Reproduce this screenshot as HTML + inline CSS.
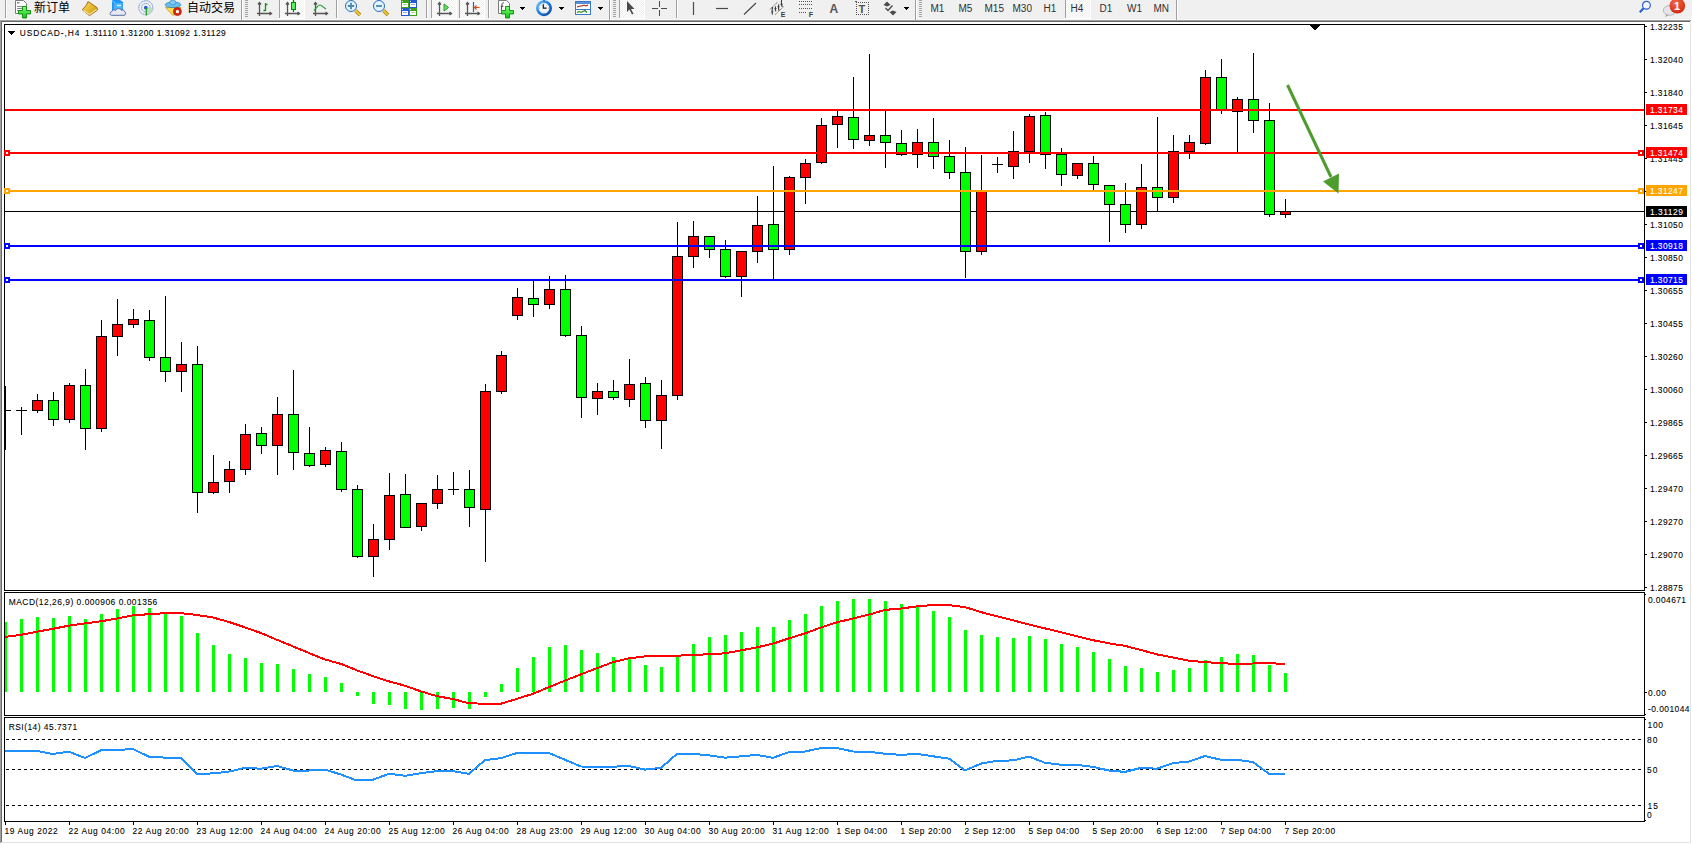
<!DOCTYPE html>
<html><head><meta charset="utf-8"><title>USDCAD-,H4</title>
<style>
html,body{margin:0;padding:0;width:1692px;height:844px;overflow:hidden;background:#f0f0f0}
svg{display:block}
text{font-family:"Liberation Sans", "Noto Sans CJK SC", sans-serif}

</style></head><body>
<svg width="1692" height="844" viewBox="0 0 1692 844">
<rect x="0" y="0" width="1692" height="844" fill="#f0f0f0"/>
<rect x="0" y="19" width="1692" height="1" fill="#f7f7f7"/>
<rect x="0" y="20" width="1691" height="1" fill="#a0a0a0"/>
<rect x="0" y="20" width="1" height="823" fill="#a0a0a0"/>
<rect x="1" y="21" width="1689" height="1" fill="#696969"/>
<rect x="1" y="21" width="1" height="821" fill="#696969"/>
<rect x="1690" y="21" width="1" height="822" fill="#e3e3e3"/>
<rect x="1" y="842" width="1690" height="1" fill="#e3e3e3"/>
<rect x="1691" y="20" width="1" height="824" fill="#ffffff"/>
<rect x="0" y="843" width="1692" height="1" fill="#ffffff"/>
<rect x="2" y="22" width="1688" height="820" fill="#ffffff"/>
<rect x="4" y="24" width="1641" height="1" fill="#000"/>
<rect x="4" y="590" width="1641" height="1" fill="#000"/>
<rect x="4" y="24" width="1" height="567" fill="#000"/>
<rect x="1644" y="24" width="1" height="567" fill="#000"/>
<rect x="4" y="592" width="1641" height="1" fill="#000"/>
<rect x="4" y="715" width="1641" height="1" fill="#000"/>
<rect x="4" y="592" width="1" height="124" fill="#000"/>
<rect x="1644" y="592" width="1" height="124" fill="#000"/>
<rect x="4" y="717" width="1641" height="1" fill="#000"/>
<rect x="4" y="821" width="1641" height="1" fill="#000"/>
<rect x="4" y="717" width="1" height="105" fill="#000"/>
<rect x="1644" y="717" width="1" height="105" fill="#000"/>
<rect x="5" y="211" width="1639" height="1" fill="#000"/>
<g shape-rendering="crispEdges">
<rect x="5" y="386" width="1" height="64" fill="#000"/>
<rect x="5" y="410" width="6" height="1" fill="#000"/>
<rect x="21" y="407" width="1" height="28" fill="#000"/>
<rect x="16" y="410" width="11" height="1" fill="#000"/>
<rect x="37" y="394" width="1" height="19" fill="#000"/>
<rect x="32" y="400" width="11" height="11" fill="#000"/>
<rect x="33" y="401" width="9" height="9" fill="#ff0000"/>
<rect x="53" y="392" width="1" height="34" fill="#000"/>
<rect x="48" y="400" width="11" height="20" fill="#000"/>
<rect x="49" y="401" width="9" height="18" fill="#00ff00"/>
<rect x="69" y="383" width="1" height="40" fill="#000"/>
<rect x="64" y="385" width="11" height="35" fill="#000"/>
<rect x="65" y="386" width="9" height="33" fill="#ff0000"/>
<rect x="85" y="369" width="1" height="81" fill="#000"/>
<rect x="80" y="385" width="11" height="44" fill="#000"/>
<rect x="81" y="386" width="9" height="42" fill="#00ff00"/>
<rect x="101" y="320" width="1" height="112" fill="#000"/>
<rect x="96" y="336" width="11" height="93" fill="#000"/>
<rect x="97" y="337" width="9" height="91" fill="#ff0000"/>
<rect x="117" y="299" width="1" height="57" fill="#000"/>
<rect x="112" y="324" width="11" height="13" fill="#000"/>
<rect x="113" y="325" width="9" height="11" fill="#ff0000"/>
<rect x="133" y="309" width="1" height="19" fill="#000"/>
<rect x="128" y="319" width="11" height="6" fill="#000"/>
<rect x="129" y="320" width="9" height="4" fill="#ff0000"/>
<rect x="149" y="310" width="1" height="51" fill="#000"/>
<rect x="144" y="320" width="11" height="38" fill="#000"/>
<rect x="145" y="321" width="9" height="36" fill="#00ff00"/>
<rect x="165" y="296" width="1" height="86" fill="#000"/>
<rect x="160" y="357" width="11" height="15" fill="#000"/>
<rect x="161" y="358" width="9" height="13" fill="#00ff00"/>
<rect x="181" y="342" width="1" height="50" fill="#000"/>
<rect x="176" y="364" width="11" height="8" fill="#000"/>
<rect x="177" y="365" width="9" height="6" fill="#ff0000"/>
<rect x="197" y="346" width="1" height="167" fill="#000"/>
<rect x="192" y="364" width="11" height="129" fill="#000"/>
<rect x="193" y="365" width="9" height="127" fill="#00ff00"/>
<rect x="213" y="455" width="1" height="39" fill="#000"/>
<rect x="208" y="482" width="11" height="11" fill="#000"/>
<rect x="209" y="483" width="9" height="9" fill="#ff0000"/>
<rect x="229" y="461" width="1" height="32" fill="#000"/>
<rect x="224" y="469" width="11" height="13" fill="#000"/>
<rect x="225" y="470" width="9" height="11" fill="#ff0000"/>
<rect x="245" y="424" width="1" height="51" fill="#000"/>
<rect x="240" y="434" width="11" height="36" fill="#000"/>
<rect x="241" y="435" width="9" height="34" fill="#ff0000"/>
<rect x="261" y="427" width="1" height="27" fill="#000"/>
<rect x="256" y="433" width="11" height="13" fill="#000"/>
<rect x="257" y="434" width="9" height="11" fill="#00ff00"/>
<rect x="277" y="397" width="1" height="78" fill="#000"/>
<rect x="272" y="414" width="11" height="32" fill="#000"/>
<rect x="273" y="415" width="9" height="30" fill="#ff0000"/>
<rect x="293" y="370" width="1" height="100" fill="#000"/>
<rect x="288" y="414" width="11" height="39" fill="#000"/>
<rect x="289" y="415" width="9" height="37" fill="#00ff00"/>
<rect x="309" y="427" width="1" height="40" fill="#000"/>
<rect x="304" y="453" width="11" height="13" fill="#000"/>
<rect x="305" y="454" width="9" height="11" fill="#00ff00"/>
<rect x="325" y="447" width="1" height="20" fill="#000"/>
<rect x="320" y="450" width="11" height="15" fill="#000"/>
<rect x="321" y="451" width="9" height="13" fill="#ff0000"/>
<rect x="341" y="442" width="1" height="50" fill="#000"/>
<rect x="336" y="451" width="11" height="39" fill="#000"/>
<rect x="337" y="452" width="9" height="37" fill="#00ff00"/>
<rect x="357" y="485" width="1" height="73" fill="#000"/>
<rect x="352" y="489" width="11" height="68" fill="#000"/>
<rect x="353" y="490" width="9" height="66" fill="#00ff00"/>
<rect x="373" y="524" width="1" height="53" fill="#000"/>
<rect x="368" y="539" width="11" height="18" fill="#000"/>
<rect x="369" y="540" width="9" height="16" fill="#ff0000"/>
<rect x="389" y="473" width="1" height="77" fill="#000"/>
<rect x="384" y="495" width="11" height="45" fill="#000"/>
<rect x="385" y="496" width="9" height="43" fill="#ff0000"/>
<rect x="405" y="474" width="1" height="54" fill="#000"/>
<rect x="400" y="494" width="11" height="34" fill="#000"/>
<rect x="401" y="495" width="9" height="32" fill="#00ff00"/>
<rect x="421" y="503" width="1" height="28" fill="#000"/>
<rect x="416" y="503" width="11" height="24" fill="#000"/>
<rect x="417" y="504" width="9" height="22" fill="#ff0000"/>
<rect x="437" y="475" width="1" height="34" fill="#000"/>
<rect x="432" y="489" width="11" height="15" fill="#000"/>
<rect x="433" y="490" width="9" height="13" fill="#ff0000"/>
<rect x="453" y="472" width="1" height="23" fill="#000"/>
<rect x="448" y="489" width="11" height="1" fill="#000"/>
<rect x="469" y="470" width="1" height="57" fill="#000"/>
<rect x="464" y="489" width="11" height="19" fill="#000"/>
<rect x="465" y="490" width="9" height="17" fill="#00ff00"/>
<rect x="485" y="384" width="1" height="178" fill="#000"/>
<rect x="480" y="391" width="11" height="119" fill="#000"/>
<rect x="481" y="392" width="9" height="117" fill="#ff0000"/>
<rect x="501" y="351" width="1" height="43" fill="#000"/>
<rect x="496" y="355" width="11" height="37" fill="#000"/>
<rect x="497" y="356" width="9" height="35" fill="#ff0000"/>
<rect x="517" y="288" width="1" height="32" fill="#000"/>
<rect x="512" y="297" width="11" height="19" fill="#000"/>
<rect x="513" y="298" width="9" height="17" fill="#ff0000"/>
<rect x="533" y="280" width="1" height="37" fill="#000"/>
<rect x="528" y="298" width="11" height="7" fill="#000"/>
<rect x="529" y="299" width="9" height="5" fill="#00ff00"/>
<rect x="549" y="276" width="1" height="33" fill="#000"/>
<rect x="544" y="289" width="11" height="16" fill="#000"/>
<rect x="545" y="290" width="9" height="14" fill="#ff0000"/>
<rect x="565" y="275" width="1" height="62" fill="#000"/>
<rect x="560" y="289" width="11" height="47" fill="#000"/>
<rect x="561" y="290" width="9" height="45" fill="#00ff00"/>
<rect x="581" y="326" width="1" height="92" fill="#000"/>
<rect x="576" y="335" width="11" height="63" fill="#000"/>
<rect x="577" y="336" width="9" height="61" fill="#00ff00"/>
<rect x="597" y="383" width="1" height="32" fill="#000"/>
<rect x="592" y="391" width="11" height="8" fill="#000"/>
<rect x="593" y="392" width="9" height="6" fill="#ff0000"/>
<rect x="613" y="380" width="1" height="20" fill="#000"/>
<rect x="608" y="391" width="11" height="7" fill="#000"/>
<rect x="609" y="392" width="9" height="5" fill="#00ff00"/>
<rect x="629" y="359" width="1" height="48" fill="#000"/>
<rect x="624" y="384" width="11" height="16" fill="#000"/>
<rect x="625" y="385" width="9" height="14" fill="#ff0000"/>
<rect x="645" y="377" width="1" height="51" fill="#000"/>
<rect x="640" y="383" width="11" height="38" fill="#000"/>
<rect x="641" y="384" width="9" height="36" fill="#00ff00"/>
<rect x="661" y="380" width="1" height="69" fill="#000"/>
<rect x="656" y="395" width="11" height="26" fill="#000"/>
<rect x="657" y="396" width="9" height="24" fill="#ff0000"/>
<rect x="677" y="222" width="1" height="178" fill="#000"/>
<rect x="672" y="256" width="11" height="140" fill="#000"/>
<rect x="673" y="257" width="9" height="138" fill="#ff0000"/>
<rect x="693" y="221" width="1" height="47" fill="#000"/>
<rect x="688" y="236" width="11" height="21" fill="#000"/>
<rect x="689" y="237" width="9" height="19" fill="#ff0000"/>
<rect x="709" y="236" width="1" height="22" fill="#000"/>
<rect x="704" y="236" width="11" height="14" fill="#000"/>
<rect x="705" y="237" width="9" height="12" fill="#00ff00"/>
<rect x="725" y="240" width="1" height="38" fill="#000"/>
<rect x="720" y="249" width="11" height="28" fill="#000"/>
<rect x="721" y="250" width="9" height="26" fill="#00ff00"/>
<rect x="741" y="251" width="1" height="46" fill="#000"/>
<rect x="736" y="251" width="11" height="26" fill="#000"/>
<rect x="737" y="252" width="9" height="24" fill="#ff0000"/>
<rect x="757" y="196" width="1" height="67" fill="#000"/>
<rect x="752" y="225" width="11" height="27" fill="#000"/>
<rect x="753" y="226" width="9" height="25" fill="#ff0000"/>
<rect x="773" y="166" width="1" height="114" fill="#000"/>
<rect x="768" y="224" width="11" height="26" fill="#000"/>
<rect x="769" y="225" width="9" height="24" fill="#00ff00"/>
<rect x="789" y="176" width="1" height="79" fill="#000"/>
<rect x="784" y="177" width="11" height="73" fill="#000"/>
<rect x="785" y="178" width="9" height="71" fill="#ff0000"/>
<rect x="805" y="159" width="1" height="45" fill="#000"/>
<rect x="800" y="163" width="11" height="15" fill="#000"/>
<rect x="801" y="164" width="9" height="13" fill="#ff0000"/>
<rect x="821" y="118" width="1" height="46" fill="#000"/>
<rect x="816" y="125" width="11" height="38" fill="#000"/>
<rect x="817" y="126" width="9" height="36" fill="#ff0000"/>
<rect x="837" y="110" width="1" height="38" fill="#000"/>
<rect x="832" y="116" width="11" height="9" fill="#000"/>
<rect x="833" y="117" width="9" height="7" fill="#ff0000"/>
<rect x="853" y="77" width="1" height="72" fill="#000"/>
<rect x="848" y="117" width="11" height="23" fill="#000"/>
<rect x="849" y="118" width="9" height="21" fill="#00ff00"/>
<rect x="869" y="54" width="1" height="92" fill="#000"/>
<rect x="864" y="135" width="11" height="6" fill="#000"/>
<rect x="865" y="136" width="9" height="4" fill="#ff0000"/>
<rect x="885" y="110" width="1" height="58" fill="#000"/>
<rect x="880" y="135" width="11" height="8" fill="#000"/>
<rect x="881" y="136" width="9" height="6" fill="#00ff00"/>
<rect x="901" y="130" width="1" height="26" fill="#000"/>
<rect x="896" y="143" width="11" height="12" fill="#000"/>
<rect x="897" y="144" width="9" height="10" fill="#00ff00"/>
<rect x="917" y="129" width="1" height="39" fill="#000"/>
<rect x="912" y="142" width="11" height="13" fill="#000"/>
<rect x="913" y="143" width="9" height="11" fill="#ff0000"/>
<rect x="933" y="118" width="1" height="51" fill="#000"/>
<rect x="928" y="142" width="11" height="15" fill="#000"/>
<rect x="929" y="143" width="9" height="13" fill="#00ff00"/>
<rect x="949" y="140" width="1" height="39" fill="#000"/>
<rect x="944" y="156" width="11" height="17" fill="#000"/>
<rect x="945" y="157" width="9" height="15" fill="#00ff00"/>
<rect x="965" y="147" width="1" height="131" fill="#000"/>
<rect x="960" y="172" width="11" height="80" fill="#000"/>
<rect x="961" y="173" width="9" height="78" fill="#00ff00"/>
<rect x="981" y="155" width="1" height="100" fill="#000"/>
<rect x="976" y="191" width="11" height="61" fill="#000"/>
<rect x="977" y="192" width="9" height="59" fill="#ff0000"/>
<rect x="997" y="157" width="1" height="16" fill="#000"/>
<rect x="992" y="164" width="11" height="1" fill="#000"/>
<rect x="1013" y="131" width="1" height="48" fill="#000"/>
<rect x="1008" y="151" width="11" height="16" fill="#000"/>
<rect x="1009" y="152" width="9" height="14" fill="#ff0000"/>
<rect x="1029" y="114" width="1" height="49" fill="#000"/>
<rect x="1024" y="116" width="11" height="36" fill="#000"/>
<rect x="1025" y="117" width="9" height="34" fill="#ff0000"/>
<rect x="1045" y="112" width="1" height="57" fill="#000"/>
<rect x="1040" y="115" width="11" height="40" fill="#000"/>
<rect x="1041" y="116" width="9" height="38" fill="#00ff00"/>
<rect x="1061" y="148" width="1" height="38" fill="#000"/>
<rect x="1056" y="154" width="11" height="21" fill="#000"/>
<rect x="1057" y="155" width="9" height="19" fill="#00ff00"/>
<rect x="1077" y="163" width="1" height="16" fill="#000"/>
<rect x="1072" y="163" width="11" height="13" fill="#000"/>
<rect x="1073" y="164" width="9" height="11" fill="#ff0000"/>
<rect x="1093" y="156" width="1" height="34" fill="#000"/>
<rect x="1088" y="163" width="11" height="22" fill="#000"/>
<rect x="1089" y="164" width="9" height="20" fill="#00ff00"/>
<rect x="1109" y="185" width="1" height="57" fill="#000"/>
<rect x="1104" y="185" width="11" height="20" fill="#000"/>
<rect x="1105" y="186" width="9" height="18" fill="#00ff00"/>
<rect x="1125" y="183" width="1" height="50" fill="#000"/>
<rect x="1120" y="204" width="11" height="21" fill="#000"/>
<rect x="1121" y="205" width="9" height="19" fill="#00ff00"/>
<rect x="1141" y="164" width="1" height="65" fill="#000"/>
<rect x="1136" y="187" width="11" height="38" fill="#000"/>
<rect x="1137" y="188" width="9" height="36" fill="#ff0000"/>
<rect x="1157" y="117" width="1" height="95" fill="#000"/>
<rect x="1152" y="187" width="11" height="11" fill="#000"/>
<rect x="1153" y="188" width="9" height="9" fill="#00ff00"/>
<rect x="1173" y="135" width="1" height="68" fill="#000"/>
<rect x="1168" y="151" width="11" height="47" fill="#000"/>
<rect x="1169" y="152" width="9" height="45" fill="#ff0000"/>
<rect x="1189" y="135" width="1" height="24" fill="#000"/>
<rect x="1184" y="142" width="11" height="10" fill="#000"/>
<rect x="1185" y="143" width="9" height="8" fill="#ff0000"/>
<rect x="1205" y="70" width="1" height="75" fill="#000"/>
<rect x="1200" y="77" width="11" height="67" fill="#000"/>
<rect x="1201" y="78" width="9" height="65" fill="#ff0000"/>
<rect x="1221" y="59" width="1" height="55" fill="#000"/>
<rect x="1216" y="77" width="11" height="33" fill="#000"/>
<rect x="1217" y="78" width="9" height="31" fill="#00ff00"/>
<rect x="1237" y="97" width="1" height="56" fill="#000"/>
<rect x="1232" y="99" width="11" height="13" fill="#000"/>
<rect x="1233" y="100" width="9" height="11" fill="#ff0000"/>
<rect x="1253" y="53" width="1" height="80" fill="#000"/>
<rect x="1248" y="99" width="11" height="22" fill="#000"/>
<rect x="1249" y="100" width="9" height="20" fill="#00ff00"/>
<rect x="1269" y="103" width="1" height="114" fill="#000"/>
<rect x="1264" y="120" width="11" height="95" fill="#000"/>
<rect x="1265" y="121" width="9" height="93" fill="#00ff00"/>
<rect x="1285" y="199" width="1" height="19" fill="#000"/>
<rect x="1280" y="211" width="11" height="4" fill="#000"/>
<rect x="1281" y="212" width="9" height="2" fill="#ff0000"/>
</g>
<rect x="5" y="109" width="1639" height="2" fill="#ff0000"/>
<rect x="5" y="152" width="1639" height="2" fill="#ff0000"/>
<rect x="4" y="150" width="6" height="6" fill="#ff0000"/>
<rect x="6" y="152" width="2" height="2" fill="#ffffff"/>
<rect x="1638" y="150" width="6" height="6" fill="#ff0000"/>
<rect x="1640" y="152" width="2" height="2" fill="#ffffff"/>
<rect x="5" y="190" width="1639" height="2" fill="#ffa500"/>
<rect x="4" y="188" width="6" height="6" fill="#ffa500"/>
<rect x="6" y="190" width="2" height="2" fill="#ffffff"/>
<rect x="1638" y="188" width="6" height="6" fill="#ffa500"/>
<rect x="1640" y="190" width="2" height="2" fill="#ffffff"/>
<rect x="5" y="245" width="1639" height="2" fill="#0000ff"/>
<rect x="4" y="243" width="6" height="6" fill="#0000ff"/>
<rect x="6" y="245" width="2" height="2" fill="#ffffff"/>
<rect x="1638" y="243" width="6" height="6" fill="#0000ff"/>
<rect x="1640" y="245" width="2" height="2" fill="#ffffff"/>
<rect x="5" y="279" width="1639" height="2" fill="#0000ff"/>
<rect x="4" y="277" width="6" height="6" fill="#0000ff"/>
<rect x="6" y="279" width="2" height="2" fill="#ffffff"/>
<rect x="1638" y="277" width="6" height="6" fill="#0000ff"/>
<rect x="1640" y="279" width="2" height="2" fill="#ffffff"/>
<rect x="4" y="24" width="1" height="567" fill="#000"/>
<rect x="4" y="150" width="6" height="6" fill="#ff0000"/>
<rect x="6" y="152" width="2" height="2" fill="#ffffff"/>
<rect x="4" y="188" width="6" height="6" fill="#ffa500"/>
<rect x="6" y="190" width="2" height="2" fill="#ffffff"/>
<rect x="4" y="243" width="6" height="6" fill="#0000ff"/>
<rect x="6" y="245" width="2" height="2" fill="#ffffff"/>
<rect x="4" y="277" width="6" height="6" fill="#0000ff"/>
<rect x="6" y="279" width="2" height="2" fill="#ffffff"/>
<line x1="1287.5" y1="85" x2="1331" y2="177" stroke="#4f9c2e" stroke-width="3"/>
<polygon points="1323,181.5 1339,173.5 1338.5,193.5" fill="#4f9c2e"/>
<rect x="1310" y="25" width="10" height="1" fill="#000"/>
<rect x="1311" y="26" width="8" height="1" fill="#000"/>
<rect x="1312" y="27" width="6" height="1" fill="#000"/>
<rect x="1313" y="28" width="4" height="1" fill="#000"/>
<rect x="1314" y="29" width="2" height="1" fill="#000"/>
<g font-family='"Liberation Sans", "Noto Sans CJK SC", sans-serif'>
<rect x="1645" y="26" width="2" height="1" fill="#000"/>
<text transform="translate(1649.9 30) scale(0.86 1)" font-size="9.8" fill="#000" stroke="#000" stroke-width="0.1" textLength="38.37" lengthAdjust="spacing">1.32235</text>
<rect x="1645" y="59" width="2" height="1" fill="#000"/>
<text transform="translate(1649.9 63) scale(0.86 1)" font-size="9.8" fill="#000" stroke="#000" stroke-width="0.1" textLength="38.37" lengthAdjust="spacing">1.32040</text>
<rect x="1645" y="92" width="2" height="1" fill="#000"/>
<text transform="translate(1649.9 96) scale(0.86 1)" font-size="9.8" fill="#000" stroke="#000" stroke-width="0.1" textLength="38.37" lengthAdjust="spacing">1.31840</text>
<rect x="1645" y="125" width="2" height="1" fill="#000"/>
<text transform="translate(1649.9 129) scale(0.86 1)" font-size="9.8" fill="#000" stroke="#000" stroke-width="0.1" textLength="38.37" lengthAdjust="spacing">1.31645</text>
<rect x="1645" y="158" width="2" height="1" fill="#000"/>
<text transform="translate(1649.9 162) scale(0.86 1)" font-size="9.8" fill="#000" stroke="#000" stroke-width="0.1" textLength="38.37" lengthAdjust="spacing">1.31445</text>
<rect x="1645" y="191" width="2" height="1" fill="#000"/>
<text transform="translate(1649.9 195) scale(0.86 1)" font-size="9.8" fill="#000" stroke="#000" stroke-width="0.1" textLength="38.37" lengthAdjust="spacing">1.31250</text>
<rect x="1645" y="224" width="2" height="1" fill="#000"/>
<text transform="translate(1649.9 228) scale(0.86 1)" font-size="9.8" fill="#000" stroke="#000" stroke-width="0.1" textLength="38.37" lengthAdjust="spacing">1.31050</text>
<rect x="1645" y="257" width="2" height="1" fill="#000"/>
<text transform="translate(1649.9 261) scale(0.86 1)" font-size="9.8" fill="#000" stroke="#000" stroke-width="0.1" textLength="38.37" lengthAdjust="spacing">1.30850</text>
<rect x="1645" y="290" width="2" height="1" fill="#000"/>
<text transform="translate(1649.9 294) scale(0.86 1)" font-size="9.8" fill="#000" stroke="#000" stroke-width="0.1" textLength="38.37" lengthAdjust="spacing">1.30655</text>
<rect x="1645" y="323" width="2" height="1" fill="#000"/>
<text transform="translate(1649.9 327) scale(0.86 1)" font-size="9.8" fill="#000" stroke="#000" stroke-width="0.1" textLength="38.37" lengthAdjust="spacing">1.30455</text>
<rect x="1645" y="356" width="2" height="1" fill="#000"/>
<text transform="translate(1649.9 360) scale(0.86 1)" font-size="9.8" fill="#000" stroke="#000" stroke-width="0.1" textLength="38.37" lengthAdjust="spacing">1.30260</text>
<rect x="1645" y="389" width="2" height="1" fill="#000"/>
<text transform="translate(1649.9 393) scale(0.86 1)" font-size="9.8" fill="#000" stroke="#000" stroke-width="0.1" textLength="38.37" lengthAdjust="spacing">1.30060</text>
<rect x="1645" y="422" width="2" height="1" fill="#000"/>
<text transform="translate(1649.9 426) scale(0.86 1)" font-size="9.8" fill="#000" stroke="#000" stroke-width="0.1" textLength="38.37" lengthAdjust="spacing">1.29865</text>
<rect x="1645" y="455" width="2" height="1" fill="#000"/>
<text transform="translate(1649.9 459) scale(0.86 1)" font-size="9.8" fill="#000" stroke="#000" stroke-width="0.1" textLength="38.37" lengthAdjust="spacing">1.29665</text>
<rect x="1645" y="488" width="2" height="1" fill="#000"/>
<text transform="translate(1649.9 492) scale(0.86 1)" font-size="9.8" fill="#000" stroke="#000" stroke-width="0.1" textLength="38.37" lengthAdjust="spacing">1.29470</text>
<rect x="1645" y="521" width="2" height="1" fill="#000"/>
<text transform="translate(1649.9 525) scale(0.86 1)" font-size="9.8" fill="#000" stroke="#000" stroke-width="0.1" textLength="38.37" lengthAdjust="spacing">1.29270</text>
<rect x="1645" y="554" width="2" height="1" fill="#000"/>
<text transform="translate(1649.9 558) scale(0.86 1)" font-size="9.8" fill="#000" stroke="#000" stroke-width="0.1" textLength="38.37" lengthAdjust="spacing">1.29070</text>
<rect x="1645" y="587" width="2" height="1" fill="#000"/>
<text transform="translate(1649.9 591) scale(0.86 1)" font-size="9.8" fill="#000" stroke="#000" stroke-width="0.1" textLength="38.37" lengthAdjust="spacing">1.28875</text>
<rect x="1646" y="104" width="41" height="11" fill="#ff0000"/>
<text transform="translate(1649.9 113) scale(0.86 1)" font-size="9.8" fill="#fff" stroke="#fff" stroke-width="0.1" textLength="38.37" lengthAdjust="spacing">1.31734</text>
<rect x="1646" y="147" width="41" height="11" fill="#ff0000"/>
<text transform="translate(1649.9 156) scale(0.86 1)" font-size="9.8" fill="#fff" stroke="#fff" stroke-width="0.1" textLength="38.37" lengthAdjust="spacing">1.31474</text>
<rect x="1646" y="185" width="41" height="11" fill="#ffa500"/>
<text transform="translate(1649.9 194) scale(0.86 1)" font-size="9.8" fill="#fff" stroke="#fff" stroke-width="0.1" textLength="38.37" lengthAdjust="spacing">1.31247</text>
<rect x="1646" y="206" width="41" height="11" fill="#000"/>
<text transform="translate(1649.9 215) scale(0.86 1)" font-size="9.8" fill="#fff" stroke="#fff" stroke-width="0.1" textLength="38.37" lengthAdjust="spacing">1.31129</text>
<rect x="1646" y="240" width="41" height="11" fill="#0000ff"/>
<text transform="translate(1649.9 249) scale(0.86 1)" font-size="9.8" fill="#fff" stroke="#fff" stroke-width="0.1" textLength="38.37" lengthAdjust="spacing">1.30918</text>
<rect x="1646" y="274" width="41" height="11" fill="#0000ff"/>
<text transform="translate(1649.9 283) scale(0.86 1)" font-size="9.8" fill="#fff" stroke="#fff" stroke-width="0.1" textLength="38.37" lengthAdjust="spacing">1.30715</text>
<rect x="1645" y="594" width="1" height="1" fill="#000"/>
<rect x="1645" y="692" width="2" height="1" fill="#000"/>
<rect x="1645" y="714" width="1" height="1" fill="#000"/>
<text transform="translate(1648 603) scale(0.86 1)" font-size="9.8" fill="#000" stroke="#000" stroke-width="0.1" textLength="44.19" lengthAdjust="spacing">0.004671</text>
<text transform="translate(1648 696) scale(0.86 1)" font-size="9.8" fill="#000" stroke="#000" stroke-width="0.1" textLength="20.93" lengthAdjust="spacing">0.00</text>
<text transform="translate(1648 712) scale(0.86 1)" font-size="9.8" fill="#000" stroke="#000" stroke-width="0.1" textLength="48.26" lengthAdjust="spacing">-0.001044</text>
<rect x="1645" y="719" width="1" height="1" fill="#000"/>
<rect x="1645" y="820" width="1" height="1" fill="#000"/>
<text transform="translate(1647.5 728) scale(0.86 1)" font-size="9.8" fill="#000" stroke="#000" stroke-width="0.1" textLength="18.02" lengthAdjust="spacing">100</text>
<text transform="translate(1647 743) scale(0.86 1)" font-size="9.8" fill="#000" stroke="#000" stroke-width="0.1" textLength="12.21" lengthAdjust="spacing">80</text>
<text transform="translate(1647 773) scale(0.86 1)" font-size="9.8" fill="#000" stroke="#000" stroke-width="0.1" textLength="12.21" lengthAdjust="spacing">50</text>
<text transform="translate(1647.5 809) scale(0.86 1)" font-size="9.8" fill="#000" stroke="#000" stroke-width="0.1" textLength="12.21" lengthAdjust="spacing">15</text>
<text transform="translate(1647 818) scale(0.86 1)" font-size="9.8" fill="#000" stroke="#000" stroke-width="0.1" textLength="6.40" lengthAdjust="spacing">0</text>
<rect x="5" y="822" width="1" height="3" fill="#000"/>
<text transform="translate(4.4 834) scale(0.86 1)" font-size="9.8" fill="#000" stroke="#000" stroke-width="0.1" textLength="62.09" lengthAdjust="spacing">19 Aug 2022</text>
<rect x="69" y="822" width="1" height="3" fill="#000"/>
<text transform="translate(68.4 834) scale(0.86 1)" font-size="9.8" fill="#000" stroke="#000" stroke-width="0.1" textLength="65.58" lengthAdjust="spacing">22 Aug 04:00</text>
<rect x="133" y="822" width="1" height="3" fill="#000"/>
<text transform="translate(132.4 834) scale(0.86 1)" font-size="9.8" fill="#000" stroke="#000" stroke-width="0.1" textLength="65.58" lengthAdjust="spacing">22 Aug 20:00</text>
<rect x="197" y="822" width="1" height="3" fill="#000"/>
<text transform="translate(196.4 834) scale(0.86 1)" font-size="9.8" fill="#000" stroke="#000" stroke-width="0.1" textLength="65.58" lengthAdjust="spacing">23 Aug 12:00</text>
<rect x="261" y="822" width="1" height="3" fill="#000"/>
<text transform="translate(260.4 834) scale(0.86 1)" font-size="9.8" fill="#000" stroke="#000" stroke-width="0.1" textLength="65.58" lengthAdjust="spacing">24 Aug 04:00</text>
<rect x="325" y="822" width="1" height="3" fill="#000"/>
<text transform="translate(324.4 834) scale(0.86 1)" font-size="9.8" fill="#000" stroke="#000" stroke-width="0.1" textLength="65.58" lengthAdjust="spacing">24 Aug 20:00</text>
<rect x="389" y="822" width="1" height="3" fill="#000"/>
<text transform="translate(388.4 834) scale(0.86 1)" font-size="9.8" fill="#000" stroke="#000" stroke-width="0.1" textLength="65.58" lengthAdjust="spacing">25 Aug 12:00</text>
<rect x="453" y="822" width="1" height="3" fill="#000"/>
<text transform="translate(452.4 834) scale(0.86 1)" font-size="9.8" fill="#000" stroke="#000" stroke-width="0.1" textLength="65.58" lengthAdjust="spacing">26 Aug 04:00</text>
<rect x="517" y="822" width="1" height="3" fill="#000"/>
<text transform="translate(516.4 834) scale(0.86 1)" font-size="9.8" fill="#000" stroke="#000" stroke-width="0.1" textLength="65.58" lengthAdjust="spacing">28 Aug 23:00</text>
<rect x="581" y="822" width="1" height="3" fill="#000"/>
<text transform="translate(580.4 834) scale(0.86 1)" font-size="9.8" fill="#000" stroke="#000" stroke-width="0.1" textLength="65.58" lengthAdjust="spacing">29 Aug 12:00</text>
<rect x="645" y="822" width="1" height="3" fill="#000"/>
<text transform="translate(644.4 834) scale(0.86 1)" font-size="9.8" fill="#000" stroke="#000" stroke-width="0.1" textLength="65.58" lengthAdjust="spacing">30 Aug 04:00</text>
<rect x="709" y="822" width="1" height="3" fill="#000"/>
<text transform="translate(708.4 834) scale(0.86 1)" font-size="9.8" fill="#000" stroke="#000" stroke-width="0.1" textLength="65.58" lengthAdjust="spacing">30 Aug 20:00</text>
<rect x="773" y="822" width="1" height="3" fill="#000"/>
<text transform="translate(772.4 834) scale(0.86 1)" font-size="9.8" fill="#000" stroke="#000" stroke-width="0.1" textLength="65.58" lengthAdjust="spacing">31 Aug 12:00</text>
<rect x="837" y="822" width="1" height="3" fill="#000"/>
<text transform="translate(836.4 834) scale(0.86 1)" font-size="9.8" fill="#000" stroke="#000" stroke-width="0.1" textLength="58.95" lengthAdjust="spacing">1 Sep 04:00</text>
<rect x="901" y="822" width="1" height="3" fill="#000"/>
<text transform="translate(900.4 834) scale(0.86 1)" font-size="9.8" fill="#000" stroke="#000" stroke-width="0.1" textLength="58.95" lengthAdjust="spacing">1 Sep 20:00</text>
<rect x="965" y="822" width="1" height="3" fill="#000"/>
<text transform="translate(964.4 834) scale(0.86 1)" font-size="9.8" fill="#000" stroke="#000" stroke-width="0.1" textLength="58.95" lengthAdjust="spacing">2 Sep 12:00</text>
<rect x="1029" y="822" width="1" height="3" fill="#000"/>
<text transform="translate(1028.4 834) scale(0.86 1)" font-size="9.8" fill="#000" stroke="#000" stroke-width="0.1" textLength="58.95" lengthAdjust="spacing">5 Sep 04:00</text>
<rect x="1093" y="822" width="1" height="3" fill="#000"/>
<text transform="translate(1092.4 834) scale(0.86 1)" font-size="9.8" fill="#000" stroke="#000" stroke-width="0.1" textLength="58.95" lengthAdjust="spacing">5 Sep 20:00</text>
<rect x="1157" y="822" width="1" height="3" fill="#000"/>
<text transform="translate(1156.4 834) scale(0.86 1)" font-size="9.8" fill="#000" stroke="#000" stroke-width="0.1" textLength="58.95" lengthAdjust="spacing">6 Sep 12:00</text>
<rect x="1221" y="822" width="1" height="3" fill="#000"/>
<text transform="translate(1220.4 834) scale(0.86 1)" font-size="9.8" fill="#000" stroke="#000" stroke-width="0.1" textLength="58.95" lengthAdjust="spacing">7 Sep 04:00</text>
<rect x="1285" y="822" width="1" height="3" fill="#000"/>
<text transform="translate(1284.4 834) scale(0.86 1)" font-size="9.8" fill="#000" stroke="#000" stroke-width="0.1" textLength="58.95" lengthAdjust="spacing">7 Sep 20:00</text>
<rect x="8" y="31" width="7" height="1" fill="#000"/>
<rect x="9" y="32" width="5" height="1" fill="#000"/>
<rect x="10" y="33" width="3" height="1" fill="#000"/>
<rect x="11" y="34" width="1" height="1" fill="#000"/>
<text transform="translate(19.8 36) scale(0.86 1)" font-size="9.8" fill="#000" stroke="#000" stroke-width="0.1" textLength="69.30" lengthAdjust="spacing">USDCAD-,H4</text>
<text transform="translate(85 36) scale(0.86 1)" font-size="9.8" fill="#000" stroke="#000" stroke-width="0.1" textLength="163.72" lengthAdjust="spacing">1.31110 1.31200 1.31092 1.31129</text>
<text transform="translate(8.7 605) scale(0.86 1)" font-size="9.8" fill="#000" stroke="#000" stroke-width="0.1" textLength="172.79" lengthAdjust="spacing">MACD(12,26,9) 0.000906 0.001356</text>
<text transform="translate(8.7 730) scale(0.86 1)" font-size="9.8" fill="#000" stroke="#000" stroke-width="0.1" textLength="79.53" lengthAdjust="spacing">RSI(14) 45.7371</text>
</g>
<g shape-rendering="crispEdges">
<rect x="4" y="622" width="3" height="70" fill="#00ff00"/>
<rect x="20" y="619" width="3" height="73" fill="#00ff00"/>
<rect x="36" y="617" width="3" height="75" fill="#00ff00"/>
<rect x="52" y="618" width="3" height="74" fill="#00ff00"/>
<rect x="68" y="616" width="3" height="76" fill="#00ff00"/>
<rect x="84" y="619" width="3" height="73" fill="#00ff00"/>
<rect x="100" y="614" width="3" height="78" fill="#00ff00"/>
<rect x="116" y="609" width="3" height="83" fill="#00ff00"/>
<rect x="132" y="606" width="3" height="86" fill="#00ff00"/>
<rect x="148" y="608" width="3" height="84" fill="#00ff00"/>
<rect x="164" y="614" width="3" height="78" fill="#00ff00"/>
<rect x="180" y="616" width="3" height="76" fill="#00ff00"/>
<rect x="196" y="633" width="3" height="59" fill="#00ff00"/>
<rect x="212" y="645" width="3" height="47" fill="#00ff00"/>
<rect x="228" y="654" width="3" height="38" fill="#00ff00"/>
<rect x="244" y="658" width="3" height="34" fill="#00ff00"/>
<rect x="260" y="663" width="3" height="29" fill="#00ff00"/>
<rect x="276" y="664" width="3" height="28" fill="#00ff00"/>
<rect x="292" y="669" width="3" height="23" fill="#00ff00"/>
<rect x="308" y="674" width="3" height="18" fill="#00ff00"/>
<rect x="324" y="677" width="3" height="15" fill="#00ff00"/>
<rect x="340" y="683" width="3" height="9" fill="#00ff00"/>
<rect x="356" y="692" width="3" height="4" fill="#00ff00"/>
<rect x="372" y="692" width="3" height="12" fill="#00ff00"/>
<rect x="388" y="692" width="3" height="13" fill="#00ff00"/>
<rect x="404" y="692" width="3" height="17" fill="#00ff00"/>
<rect x="420" y="692" width="3" height="18" fill="#00ff00"/>
<rect x="436" y="692" width="3" height="17" fill="#00ff00"/>
<rect x="452" y="692" width="3" height="16" fill="#00ff00"/>
<rect x="468" y="692" width="3" height="17" fill="#00ff00"/>
<rect x="484" y="692" width="3" height="5" fill="#00ff00"/>
<rect x="500" y="684" width="3" height="8" fill="#00ff00"/>
<rect x="516" y="668" width="3" height="24" fill="#00ff00"/>
<rect x="532" y="657" width="3" height="35" fill="#00ff00"/>
<rect x="548" y="647" width="3" height="45" fill="#00ff00"/>
<rect x="564" y="645" width="3" height="47" fill="#00ff00"/>
<rect x="580" y="650" width="3" height="42" fill="#00ff00"/>
<rect x="596" y="653" width="3" height="39" fill="#00ff00"/>
<rect x="612" y="657" width="3" height="35" fill="#00ff00"/>
<rect x="628" y="659" width="3" height="33" fill="#00ff00"/>
<rect x="644" y="665" width="3" height="27" fill="#00ff00"/>
<rect x="660" y="667" width="3" height="25" fill="#00ff00"/>
<rect x="676" y="656" width="3" height="36" fill="#00ff00"/>
<rect x="692" y="644" width="3" height="48" fill="#00ff00"/>
<rect x="708" y="637" width="3" height="55" fill="#00ff00"/>
<rect x="724" y="635" width="3" height="57" fill="#00ff00"/>
<rect x="740" y="632" width="3" height="60" fill="#00ff00"/>
<rect x="756" y="627" width="3" height="65" fill="#00ff00"/>
<rect x="772" y="627" width="3" height="65" fill="#00ff00"/>
<rect x="788" y="620" width="3" height="72" fill="#00ff00"/>
<rect x="804" y="614" width="3" height="78" fill="#00ff00"/>
<rect x="820" y="606" width="3" height="86" fill="#00ff00"/>
<rect x="836" y="601" width="3" height="91" fill="#00ff00"/>
<rect x="852" y="599" width="3" height="93" fill="#00ff00"/>
<rect x="868" y="599" width="3" height="93" fill="#00ff00"/>
<rect x="884" y="601" width="3" height="91" fill="#00ff00"/>
<rect x="900" y="604" width="3" height="88" fill="#00ff00"/>
<rect x="916" y="607" width="3" height="85" fill="#00ff00"/>
<rect x="932" y="611" width="3" height="81" fill="#00ff00"/>
<rect x="948" y="617" width="3" height="75" fill="#00ff00"/>
<rect x="964" y="630" width="3" height="62" fill="#00ff00"/>
<rect x="980" y="635" width="3" height="57" fill="#00ff00"/>
<rect x="996" y="637" width="3" height="55" fill="#00ff00"/>
<rect x="1012" y="638" width="3" height="54" fill="#00ff00"/>
<rect x="1028" y="636" width="3" height="56" fill="#00ff00"/>
<rect x="1044" y="639" width="3" height="53" fill="#00ff00"/>
<rect x="1060" y="644" width="3" height="48" fill="#00ff00"/>
<rect x="1076" y="647" width="3" height="45" fill="#00ff00"/>
<rect x="1092" y="652" width="3" height="40" fill="#00ff00"/>
<rect x="1108" y="659" width="3" height="33" fill="#00ff00"/>
<rect x="1124" y="666" width="3" height="26" fill="#00ff00"/>
<rect x="1140" y="668" width="3" height="24" fill="#00ff00"/>
<rect x="1156" y="672" width="3" height="20" fill="#00ff00"/>
<rect x="1172" y="670" width="3" height="22" fill="#00ff00"/>
<rect x="1188" y="668" width="3" height="24" fill="#00ff00"/>
<rect x="1204" y="660" width="3" height="32" fill="#00ff00"/>
<rect x="1220" y="657" width="3" height="35" fill="#00ff00"/>
<rect x="1236" y="654" width="3" height="38" fill="#00ff00"/>
<rect x="1252" y="655" width="3" height="37" fill="#00ff00"/>
<rect x="1268" y="665" width="3" height="27" fill="#00ff00"/>
<rect x="1284" y="673" width="3" height="19" fill="#00ff00"/>
</g>
<polyline points="5,636.9 21,634.8 37,631.7 53,628.8 69,625.6 85,623.4 101,621.3 117,618.5 133,615.3 149,614.2 165,613.2 181,613.2 197,615.0 213,617.5 229,622.0 245,627.4 261,633.1 277,639.8 293,646.4 309,653.0 325,659.5 341,663.9 357,670.4 373,676.1 389,681.4 405,685.7 421,691.4 437,696.2 453,699.0 469,703.3 485,703.7 501,703.7 517,698.8 533,693.8 549,687.1 565,680.6 581,674.3 597,668.2 613,662.1 629,658.3 645,656.4 661,655.8 677,655.8 693,654.7 709,654.4 725,653.3 741,650.4 757,647.3 773,643.6 789,638.4 805,633.4 821,627.4 837,622.3 853,618.5 869,614.6 885,609.9 901,608.5 917,606.4 933,605.0 949,605.2 965,607.1 981,612.1 997,616.3 1013,620.3 1029,624.6 1045,628.4 1061,632.2 1077,636.2 1093,640.2 1109,643.3 1125,645.9 1141,650.0 1157,654.4 1173,657.5 1189,660.7 1205,662.1 1221,663.2 1237,663.9 1253,663.5 1269,663.2 1285,663.9" fill="none" stroke="#ff0000" stroke-width="2" shape-rendering="crispEdges"/>
<g shape-rendering="crispEdges">
<line x1="6" y1="739.5" x2="1641" y2="739.5" stroke="#000" stroke-width="1" stroke-dasharray="3 3"/>
<line x1="6" y1="769.5" x2="1641" y2="769.5" stroke="#000" stroke-width="1" stroke-dasharray="3 3"/>
<line x1="6" y1="805.5" x2="1641" y2="805.5" stroke="#000" stroke-width="1" stroke-dasharray="3 3"/>
</g>
<polyline points="5,751.0 21,751.0 37,751.0 53,754.0 69,751.7 85,758.0 101,750.3 117,750.0 133,749.0 149,756.8 165,757.6 181,757.6 197,774.0 213,773.4 229,771.6 245,767.9 261,768.7 277,766.0 293,770.5 309,770.5 325,769.5 341,774.6 357,780.5 373,779.7 389,773.8 405,775.8 421,773.1 437,771.1 453,771.1 469,773.8 485,760.1 501,758.1 517,753.0 533,753.0 549,753.0 565,759.8 581,766.5 597,766.7 613,766.7 629,766.0 645,769.6 661,767.9 677,753.9 693,753.9 709,755.3 725,757.7 741,756.3 757,754.9 773,757.8 789,752.1 805,751.5 821,748.0 837,748.0 853,751.5 869,751.8 885,753.7 901,754.9 917,753.9 933,756.3 949,758.6 965,770.5 981,763.6 997,760.8 1013,760.4 1029,756.5 1045,762.8 1061,764.8 1077,764.8 1093,766.9 1109,770.5 1125,771.9 1141,767.9 1157,768.7 1173,763.1 1189,761.6 1205,756.0 1221,759.8 1237,759.8 1253,762.0 1269,773.8 1285,773.8" fill="none" stroke="#1e90ff" stroke-width="2" shape-rendering="crispEdges"/>
<rect x="4" y="592" width="1" height="124" fill="#000"/>
<rect x="4" y="717" width="1" height="105" fill="#000"/>
<g id="toolbar">
<defs>
<pattern id="chk" width="2" height="2" patternUnits="userSpaceOnUse"><rect width="2" height="2" fill="#f0f0f0"/><rect width="1" height="1" fill="#fff"/><rect x="1" y="1" width="1" height="1" fill="#fff"/></pattern>
<linearGradient id="gold" x1="0" y1="0" x2="1" y2="1"><stop offset="0" stop-color="#fbe27a"/><stop offset="0.6" stop-color="#e0b020"/><stop offset="1" stop-color="#b07810"/></linearGradient>
<linearGradient id="gplus" x1="0" y1="0" x2="0" y2="1"><stop offset="0" stop-color="#7dff7d"/><stop offset="1" stop-color="#10c010"/></linearGradient>
<linearGradient id="clk" x1="0" y1="0" x2="1" y2="1"><stop offset="0" stop-color="#6cc4ff"/><stop offset="0.5" stop-color="#1a78e0"/><stop offset="1" stop-color="#0a48a0"/></linearGradient>
<radialGradient id="badge" cx="0.4" cy="0.3" r="0.7"><stop offset="0" stop-color="#f26a4a"/><stop offset="1" stop-color="#d42a10"/></radialGradient>
</defs>
<!-- separators -->
<g shape-rendering="crispEdges">
<rect x="5" y="0" width="1" height="18" fill="#a0a0a0"/><rect x="6" y="0" width="1" height="18" fill="#fff"/>
<rect x="241" y="0" width="1" height="20" fill="#a0a0a0"/><rect x="242" y="0" width="1" height="20" fill="#fff"/>
<rect x="336" y="0" width="1" height="18" fill="#a0a0a0"/><rect x="337" y="0" width="1" height="18" fill="#fff"/>
<rect x="426" y="0" width="1" height="18" fill="#a0a0a0"/><rect x="427" y="0" width="1" height="18" fill="#fff"/>
<rect x="488" y="0" width="1" height="18" fill="#a0a0a0"/><rect x="489" y="0" width="1" height="18" fill="#fff"/>
<rect x="676" y="0" width="1" height="18" fill="#a0a0a0"/><rect x="677" y="0" width="1" height="18" fill="#fff"/>
<rect x="609" y="0" width="1" height="20" fill="#a0a0a0"/><rect x="610" y="0" width="1" height="20" fill="#fff"/>
<rect x="915" y="0" width="1" height="20" fill="#a0a0a0"/><rect x="916" y="0" width="1" height="20" fill="#fff"/>
<rect x="1176" y="0" width="1" height="20" fill="#a0a0a0"/><rect x="1177" y="0" width="1" height="20" fill="#fff"/>
</g>
<!-- grips -->
<g fill="#a4a4a4" shape-rendering="crispEdges">
<path d="M245 0h3v1h-3zM245 2h3v1h-3zM245 4h3v1h-3zM245 6h3v1h-3zM245 8h3v1h-3zM245 10h3v1h-3zM245 12h3v1h-3zM245 14h3v1h-3zM245 16h3v1h-3z"/>
<path d="M613 0h3v1h-3zM613 2h3v1h-3zM613 4h3v1h-3zM613 6h3v1h-3zM613 8h3v1h-3zM613 10h3v1h-3zM613 12h3v1h-3zM613 14h3v1h-3zM613 16h3v1h-3z"/>
<path d="M919 0h3v1h-3zM919 2h3v1h-3zM919 4h3v1h-3zM919 6h3v1h-3zM919 8h3v1h-3zM919 10h3v1h-3zM919 12h3v1h-3zM919 14h3v1h-3zM919 16h3v1h-3z"/>
</g>
<!-- pressed buttons -->
<g shape-rendering="crispEdges">
<rect x="279" y="0" width="26" height="19" fill="url(#chk)"/><rect x="279" y="0" width="1" height="18" fill="#a0a0a0"/><rect x="279" y="18" width="26" height="1" fill="#fff"/><rect x="304" y="0" width="1" height="19" fill="#fff"/>
<rect x="431" y="0" width="26" height="19" fill="url(#chk)"/><rect x="431" y="0" width="1" height="18" fill="#a0a0a0"/><rect x="431" y="18" width="26" height="1" fill="#fff"/><rect x="456" y="0" width="1" height="19" fill="#fff"/>
<rect x="459" y="0" width="26" height="19" fill="url(#chk)"/><rect x="459" y="0" width="1" height="18" fill="#a0a0a0"/><rect x="459" y="18" width="26" height="1" fill="#fff"/><rect x="484" y="0" width="1" height="19" fill="#fff"/>
<rect x="619" y="0" width="26" height="19" fill="url(#chk)"/><rect x="619" y="0" width="1" height="18" fill="#a0a0a0"/><rect x="619" y="18" width="26" height="1" fill="#fff"/><rect x="644" y="0" width="1" height="19" fill="#fff"/>
<rect x="1065" y="0" width="26" height="19" fill="url(#chk)"/><rect x="1065" y="0" width="1" height="18" fill="#a0a0a0"/><rect x="1065" y="18" width="26" height="1" fill="#fff"/><rect x="1090" y="0" width="1" height="19" fill="#fff"/>
</g>
<!-- new order -->
<path d="M15.5 0.5h8l3 3v10h-11z" fill="#fff" stroke="#7a7a7a"/>
<rect x="17" y="2" width="2.5" height="1.5" fill="#8a8a8a"/>
<path d="M17 6.5h6M17 8.5h6M17 10.5h4" stroke="#8a8a8a" stroke-width="1"/>
<path d="M22.5 6.5h4v4h4v3.5h-4v4h-4v-4h-4v-3.5h4z" fill="url(#gplus)" stroke="#0a8a0a" stroke-width="0.9"/>
<text x="34" y="11.5" font-size="12" fill="#000" font-family='"Noto Sans CJK SC", sans-serif'>新订单</text>
<!-- gold book -->
<path d="M82.3 9.8 L86.5 5 L88 1.5 L96.8 7.4 L97.6 10 L89.6 15.6 Z" fill="url(#gold)" stroke="#9a6008" stroke-width="0.9" stroke-linejoin="round"/>
<path d="M83.5 10.5 L90 14.5 M89.5 14.5 L96.8 9.3" stroke="#f4e6a0" stroke-width="1.1" fill="none"/>
<!-- blue box cloud -->
<path d="M112 0 h8 l3 2 v9 h-11z" fill="#1e96f6"/>
<path d="M112 0.5 l3 2.5 v8" stroke="#8fd0ff" stroke-width="0.8" fill="none"/>
<rect x="115.5" y="3" width="7" height="6" fill="#48b4ff"/>
<path d="M117 5.5 h4" stroke="#e8f6ff" stroke-width="1.2"/>
<path d="M111.3 15.3 c-1.6 -0.3 -1.6 -3.5 0.6 -3.8 c0.4 -1.8 2.6 -2.2 3.6 -1 c1 -2.4 5 -2.6 6 -0.2 c1.2 -0.8 3 0 3 1.4 c1.6 0.4 1.6 3.4 -0.4 3.6 z" fill="#e4e9f4" stroke="#4a5e98" stroke-width="0.9"/>
<!-- radar -->
<g fill="none">
<circle cx="145.8" cy="7.7" r="7" stroke="#5f86d8" stroke-width="1" stroke-dasharray="1.2 0.6"/>
<circle cx="145.8" cy="7.7" r="4.3" stroke="#6a90dc" stroke-width="1" stroke-dasharray="1.2 0.6"/>
<path d="M145.8 7.7 L152.8 7.7 A7 7 0 0 1 145.8 14.7 Z" fill="#b8dcb0" opacity="0.8"/>
<circle cx="145.8" cy="7.7" r="1.9" fill="#2a5ed0"/>
<path d="M146.3 8 v7.5" stroke="#22a022" stroke-width="1.3"/>
</g>
<!-- autotrading -->
<path d="M165.5 7.5 L173 15.5 L181 7.5 Z" fill="#f6de50" stroke="#c89a18" stroke-width="0.8" stroke-linejoin="round"/>
<ellipse cx="173" cy="4.8" rx="7.8" ry="2.8" fill="#6cc0ee" stroke="#2a88c0" stroke-width="0.8"/>
<ellipse cx="172.8" cy="2.6" rx="3.2" ry="2.4" fill="#7ccaf4" stroke="#2a88c0" stroke-width="0.6"/>
<circle cx="177.4" cy="11.6" r="4" fill="#e02a10" stroke="#a81808" stroke-width="0.7"/>
<rect x="176" y="10.2" width="2.8" height="2.8" fill="#fff"/>
<text x="187" y="11.5" font-size="12" fill="#000" font-family='"Noto Sans CJK SC", sans-serif'>自动交易</text>
<!-- bar chart icon -->
<g stroke="#555" stroke-width="1.3" fill="none">
<path d="M259.5 3 v13 M257 13.5 h14"/>
<path d="M258 4.5 l1.5 -2 l1.5 2 M269.5 12 l2 1.5 l-2 1.5"/>
</g>
<path d="M265.5 3 v8 M265.5 4.5 h2 M263.5 10.5 h2" stroke="#129612" stroke-width="1.3" fill="none"/>
<!-- candle icon -->
<g stroke="#555" stroke-width="1.3" fill="none">
<path d="M287.5 3 v13 M285 13.5 h14"/>
<path d="M286 4.5 l1.5 -2 l1.5 2 M297.5 12 l2 1.5 l-2 1.5"/>
</g>
<path d="M293.5 0 v12" stroke="#008800" stroke-width="1.3"/>
<rect x="291.5" y="2.5" width="4" height="7" fill="#5df05d" stroke="#008800" stroke-width="1"/>
<!-- line chart icon -->
<g stroke="#555" stroke-width="1.3" fill="none">
<path d="M315.5 3 v13 M313 13.5 h14"/>
<path d="M314 4.5 l1.5 -2 l1.5 2 M325.5 12 l2 1.5 l-2 1.5"/>
</g>
<path d="M314 10.5 C317 7 318 5 320 5 C322 5 323 7.5 326 9" stroke="#27a027" stroke-width="1.2" fill="none"/>
<!-- zoom in/out -->
<g>
<path d="M355.5 10.5 l4.5 4.5" stroke="#a87008" stroke-width="3.4"/>
<path d="M355.5 10.5 l4.5 4.5" stroke="#f0d030" stroke-width="1.8"/>
<circle cx="351" cy="6" r="5.5" fill="#e2f4fe" stroke="#2a6cc0" stroke-width="1"/>
<path d="M351 2.8 v6.4 M347.8 6 h6.4" stroke="#4a8aaa" stroke-width="1.8"/>
<path d="M383.5 10.5 l4.5 4.5" stroke="#a87008" stroke-width="3.4"/>
<path d="M383.5 10.5 l4.5 4.5" stroke="#f0d030" stroke-width="1.8"/>
<circle cx="379" cy="6" r="5.5" fill="#e2f4fe" stroke="#2a6cc0" stroke-width="1"/>
<path d="M376 6 h6" stroke="#4a8aaa" stroke-width="1.8"/>
</g>
<!-- tile windows -->
<g shape-rendering="crispEdges">
<rect x="401" y="0" width="8" height="8" fill="#3ca01a"/>
<rect x="402" y="3" width="6" height="4" fill="#fff"/>
<rect x="403" y="4" width="4" height="1" fill="#a8d890"/>
<rect x="402" y="1" width="1" height="1" fill="#e8f0e8"/>
<rect x="409" y="0" width="8" height="8" fill="#2458d8"/>
<rect x="410" y="3" width="6" height="4" fill="#fff"/>
<rect x="411" y="4" width="4" height="1" fill="#90aaf0"/>
<rect x="410" y="1" width="1" height="1" fill="#e8f0e8"/>
<rect x="401" y="8" width="8" height="8" fill="#2458d8"/>
<rect x="402" y="11" width="6" height="4" fill="#fff"/>
<rect x="403" y="12" width="4" height="1" fill="#90aaf0"/>
<rect x="402" y="9" width="1" height="1" fill="#e8f0e8"/>
<rect x="409" y="8" width="8" height="8" fill="#3ca01a"/>
<rect x="410" y="11" width="6" height="4" fill="#fff"/>
<rect x="411" y="12" width="4" height="1" fill="#a8d890"/>
<rect x="410" y="9" width="1" height="1" fill="#e8f0e8"/>
</g>
<!-- auto scroll -->
<g stroke="#555" stroke-width="1.3" fill="none">
<path d="M439.5 3 v13 M437 13.5 h14"/>
<path d="M438 4.5 l1.5 -2 l1.5 2 M449.5 12 l2 1.5 l-2 1.5"/>
</g>
<path d="M444 4 L448.5 7.5 L444 11 Z" fill="#6be06b" stroke="#129612" stroke-width="0.9"/>
<!-- chart shift -->
<g stroke="#555" stroke-width="1.3" fill="none">
<path d="M467.5 3 v13 M465 13.5 h14"/>
<path d="M466 4.5 l1.5 -2 l1.5 2 M477.5 12 l2 1.5 l-2 1.5"/>
</g>
<path d="M473.5 2 v10" stroke="#1a6aa8" stroke-width="1.2"/>
<path d="M474.5 7.5 h5 M476.5 5.5 l-2 2 l2 2" stroke="#e04a10" stroke-width="1.2" fill="none"/>
<!-- indicators icon -->
<path d="M498.5 0.5h8l3 3v10h-11z" fill="#fff" stroke="#7a7a7a"/>
<path d="M501.2 10.5 L502.2 3.5 Q502.6 2.5 503.8 2.8 M500.8 6.3 h2.6" stroke="#3a3020" stroke-width="0.9" fill="none"/>
<path d="M505.5 6.5h4v4h4v3.5h-4v4h-4v-4h-4v-3.5h4z" fill="url(#gplus)" stroke="#0a8a0a" stroke-width="0.9"/>
<path d="M520 7h5v1h-5z M521 8h3v1h-3z M522 9h1v1h-1z" fill="#000" shape-rendering="crispEdges"/>
<!-- clock -->
<circle cx="544" cy="8.2" r="6.7" fill="#f2f5f8" stroke="url(#clk)" stroke-width="2.6"/>
<path d="M544 3.2v0.8M544 12.4v0.8M539 8.2h0.8M548.2 8.2h0.8M540.6 4.8l0.5 0.5M547.4 11.6l-0.5 -0.5M540.6 11.6l0.5 -0.5M547.4 4.8l-0.5 0.5" stroke="#888" stroke-width="0.8"/>
<path d="M543.3 4.3 v3.8 h3.3" stroke="#111" stroke-width="1.2" fill="none"/>
<path d="M544 0.2 v1.2" stroke="#1a6cd0" stroke-width="2"/>
<path d="M559 7h5v1h-5z M560 8h3v1h-3z M561 9h1v1h-1z" fill="#000" shape-rendering="crispEdges"/>
<!-- template -->
<rect x="575.5" y="1.5" width="15" height="13" fill="#fff" stroke="#3a78c8"/>
<rect x="576" y="2" width="14" height="2" fill="#5a90d8"/>
<path d="M576 9.5 h14" stroke="#3a78c8"/>
<path d="M577 7 l3 -1 l2 0 l2 -1 l2 1 l2 -1" stroke="#a02010" stroke-width="1.1" fill="none"/>
<path d="M577 12.5 l2 -1 l2 1 l2 -1 l2 -1 l2 2" stroke="#1a8a1a" stroke-width="1.1" fill="none"/>
<path d="M598 7h5v1h-5z M599 8h3v1h-3z M600 9h1v1h-1z" fill="#000" shape-rendering="crispEdges"/>
<!-- cursor -->
<path d="M627 1 L627 12 L629.5 9.5 L632 14.5 L633.5 13.8 L631 9 L634.5 9 Z" fill="#4a4a4a"/>
<!-- crosshair -->
<path d="M659.5 1 v6 M659.5 10 v6 M652 8.5 h6 M661 8.5 h6" stroke="#4a4a4a" stroke-width="1"/>
<!-- vertical line -->
<path d="M693.5 2 v13" stroke="#4a4a4a" stroke-width="1.2"/>
<!-- horizontal line -->
<path d="M716 8.5 h12" stroke="#4a4a4a" stroke-width="1.2"/>
<!-- trend line -->
<path d="M744 14.5 L756 3" stroke="#4a4a4a" stroke-width="1.2"/>
<!-- channel E -->
<path d="M769.8 9.4 L777.6 2.2 M775.2 14.5 L783.9 6.4" stroke="#5a5a5a" stroke-width="0.9" stroke-dasharray="1.2 0.5"/>
<path d="M772.6 7.2 Q771.8 10.5 772.4 14.6 M775.6 6.4 Q775 9 775.8 11.4 M778.7 4.4 Q778.2 7.5 778.9 10.6 M781.6 0 Q781 3.5 782.2 7" stroke="#3a3a3a" stroke-width="1.1" fill="none"/>
<path d="M771.2 11.8 h2.2 M774.4 8.6 h2.2 M777.5 6.8 h2.2 M780.3 4.3 h2.4" stroke="#3a3a3a" stroke-width="0.8"/>
<text x="780.7" y="17" font-size="7" font-weight="bold" fill="#3a3a3a">E</text>
<!-- fibo F -->
<g stroke="#555" stroke-width="1" stroke-dasharray="1 1">
<path d="M799 1.5 h13 M799 4.5 h13 M799 8.5 h13 M799 12.5 h8"/>
</g>
<text x="808.7" y="17" font-size="7" font-weight="bold" fill="#3a3a3a">F</text>
<!-- text A -->
<text x="829.6" y="13" font-size="12" font-weight="bold" fill="#555">A</text>
<!-- label T -->
<path d="M856 2h1v1h-1z M856 14h1v1h-1z M858 2h1v1h-1z M858 14h1v1h-1z M860 2h1v1h-1z M860 14h1v1h-1z M862 2h1v1h-1z M862 14h1v1h-1z M864 2h1v1h-1z M864 14h1v1h-1z M866 2h1v1h-1z M866 14h1v1h-1z M868 2h1v1h-1z M868 14h1v1h-1z M856 4h1v1h-1z M868 4h1v1h-1z M856 6h1v1h-1z M868 6h1v1h-1z M856 8h1v1h-1z M868 8h1v1h-1z M856 10h1v1h-1z M868 10h1v1h-1z M856 12h1v1h-1z M868 12h1v1h-1z" fill="#555" shape-rendering="crispEdges"/>
<path d="M855 1h2v1h-2z" fill="#555"/>
<text x="858.6" y="13" font-size="11" font-weight="bold" fill="#505050">T</text>
<!-- arrows -->
<path d="M883.5 5 L887 1.5 L890.5 5 L887 6.5 Z" fill="#4a4a4a"/>
<path d="M889.5 12 L893 10.5 L896.5 12 L893 15.5 Z" fill="#4a4a4a"/>
<path d="M885.5 8 l2.5 2.5 l4.5 -5" stroke="#4a4a4a" stroke-width="1.3" fill="none"/>
<path d="M904 7h5v1h-5z M905 8h3v1h-3z M906 9h1v1h-1z" fill="#000" shape-rendering="crispEdges"/>
<!-- timeframes -->
<g font-size="10" fill="#303030">
<text x="930.5" y="12">M1</text>
<text x="958.5" y="12">M5</text>
<text x="984.5" y="12">M15</text>
<text x="1012.5" y="12">M30</text>
<text x="1043.5" y="12">H1</text>
<text x="1070.5" y="12">H4</text>
<text x="1099.5" y="12">D1</text>
<text x="1127" y="12">W1</text>
<text x="1153.5" y="12">MN</text>
</g>
<!-- search -->
<circle cx="1646.4" cy="5.3" r="3.9" fill="#f4f6ff" stroke="#2a62d0" stroke-width="1.2"/>
<path d="M1643.5 8.3 L1639.8 12.2" stroke="#2a62d0" stroke-width="2.2"/>
<!-- chat + badge -->
<ellipse cx="1669.6" cy="10.4" rx="6.3" ry="4.9" fill="#e4e4ec" stroke="#a8a8a8" stroke-width="0.8"/>
<path d="M1666.2 14.6 l-0.9 2.6 l3.2 -2.2" fill="#9a9a9a"/>
<circle cx="1677.3" cy="5.8" r="7.8" fill="url(#badge)"/>
<text x="1674" y="10" font-size="11" font-weight="bold" fill="#fff">1</text>
</g>

</svg>
</body></html>
